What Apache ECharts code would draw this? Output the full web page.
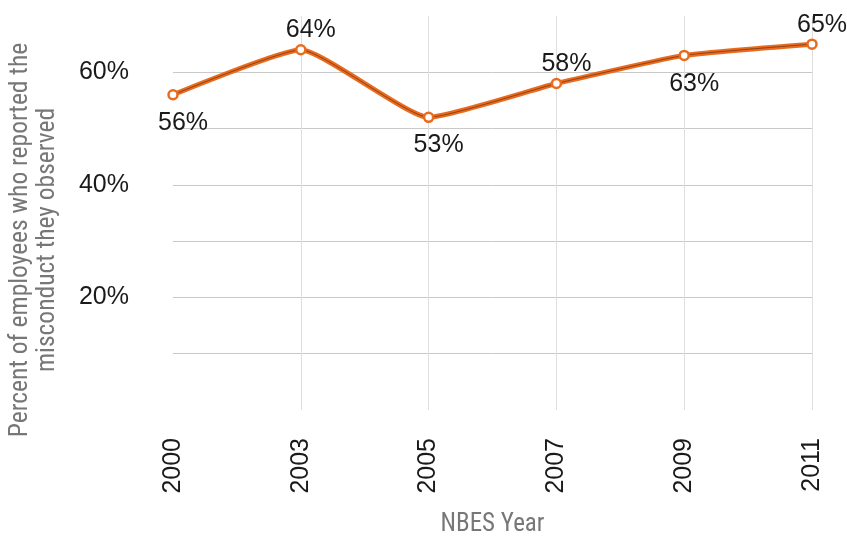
<!DOCTYPE html>
<html>
<head>
<meta charset="utf-8">
<script src="https://cdn.jsdelivr.net/npm/echarts@6/dist/echarts.min.js"></script>
<style>
  html, body { margin: 0; padding: 0; background: #fff; }
  #chart { width: 847px; height: 539px; }
</style>
</head>
<body>
<div id="chart"></div>
<script>
// datos del grafico
const years = ['2000', '2003', '2005', '2007', '2009', '2011'];
const reported = [56, 64, 52, 58, 63, 65];
const pointLabels = ['56%', '64%', '53%', '58%', '63%', '65%'];
const labelSide = ['bottom', 'top', 'bottom', 'top', 'bottom', 'top'];
const yTickLabels = { 20: '20%', 40: '40%', 60: '60%' };

const chart = echarts.init(document.getElementById('chart'));

const narrowFont = "'Roboto Condensed', 'Liberation Sans Narrow', 'DejaVu Sans Condensed', sans-serif";

// lineas de la rejilla: sin linea en 0 ni en 70
const hGrid = ['rgba(0,0,0,0)', '#c9c9c9', '#c9c9c9', '#c9c9c9', '#c9c9c9', '#c9c9c9', '#c9c9c9', 'rgba(0,0,0,0)'];
const vGrid = ['rgba(0,0,0,0)', '#dedede', '#dedede', '#dedede', '#dedede', '#dedede'];

const option = {
    animation: false,
    grid: { left: 173, right: 35, top: 16, bottom: 129, containLabel: false, outerBoundsMode: 'none' },
    xAxis: {
        type: 'category',
        data: years,
        boundaryGap: false,
        axisLine: { show: false },
        axisTick: { show: false },
        axisLabel: {
            rotate: 90,
            margin: 28,
            color: '#1a1a1a',
            fontFamily: 'Liberation Sans',
            fontSize: 25
        },
        splitLine: { show: true, lineStyle: { color: vGrid, width: 1 } },
        name: 'NBES Year',
        nameLocation: 'middle',
        nameGap: 102,
        nameTextStyle: { color: '#777', fontFamily: narrowFont, fontSize: 25 }
    },
    yAxis: {
        type: 'value',
        min: 0,
        max: 70,
        interval: 10,
        axisLine: { show: false },
        axisTick: { show: false },
        axisLabel: {
            margin: 44,
            color: '#1a1a1a',
            fontFamily: 'Liberation Sans',
            fontSize: 25,
            formatter: v => yTickLabels[v] || ''
        },
        splitLine: { show: true, lineStyle: { color: hGrid, width: 1 } },
        name: 'Percent of employees who reported the\nmisconduct they observed',
        nameLocation: 'middle',
        nameGap: 112,
        nameTextStyle: {
            color: '#777',
            fontFamily: narrowFont,
            fontSize: 25.5,
            lineHeight: 27,
            padding: [0, 54, 0, 0]
        }
    },
    series: [
        {
            // linea naranja
            type: 'line',
            data: reported,
            smooth: 0.15,
            showSymbol: false,
            silent: true,
            lineStyle: { color: '#ea6a1e', width: 5 },
            z: 1
        },
        {
            // linea oscura interior
            type: 'line',
            data: reported,
            smooth: 0.15,
            showSymbol: false,
            silent: true,
            lineStyle: { color: '#8a4416', width: 1 },
            z: 2
        },
        {
            // puntos y etiquetas
            type: 'line',
            symbol: 'circle',
            symbolSize: 9,
            showSymbol: true,
            lineStyle: { width: 0 },
            itemStyle: { color: '#ffffff', borderColor: '#ea6a1e', borderWidth: 2.5 },
            z: 3,
            label: {
                show: true,
                formatter: p => pointLabels[p.dataIndex],
                color: '#1a1a1a',
                fontFamily: 'Liberation Sans',
                fontSize: 25
            },
            data: reported.map((v, i) => ({
                value: v,
                label: {
                    position: labelSide[i],
                    distance: labelSide[i] === 'top' ? 1 : 10,
                    offset: [10, 0]
                }
            }))
        }
    ]
};

option && chart.setOption(option);
</script>
</body>
</html>
